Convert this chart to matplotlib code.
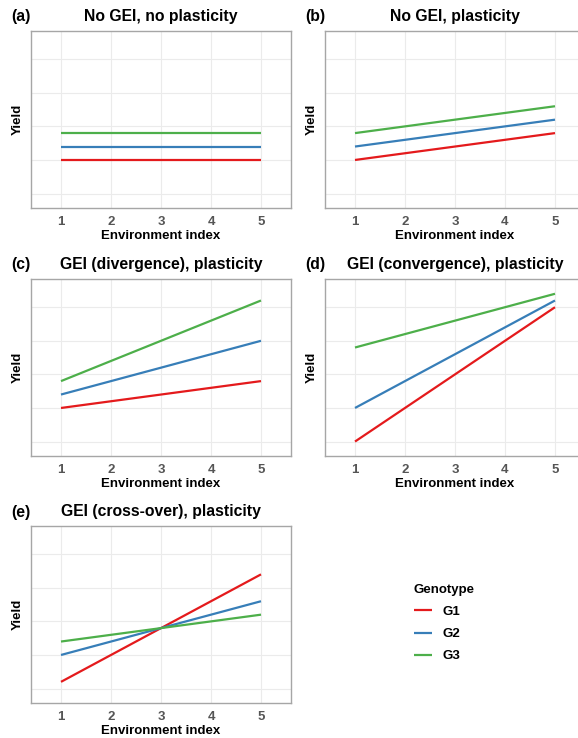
import matplotlib.pyplot as plt
import numpy as np

plt.rcParams['font.family'] = ['Liberation Sans', 'DejaVu Sans']

env = [1, 2, 3, 4, 5]
genotypes = ['G1', 'G2', 'G3']
colors = ['#E41A1C', '#377EB8', '#4DAF4A']

# yield at environment 1 and 5 for each genotype (straight lines)
panels = [
    ('(a)', 'No GEI, no plasticity', [[2.0, 2.0], [2.4, 2.4], [2.8, 2.8]]),
    ('(b)', 'No GEI, plasticity', [[2.0, 2.8], [2.4, 3.2], [2.8, 3.6]]),
    ('(c)', 'GEI (divergence), plasticity', [[2.0, 2.8], [2.4, 4.0], [2.8, 5.2]]),
    ('(d)', 'GEI (convergence), plasticity', [[1.0, 5.0], [2.0, 5.2], [3.8, 5.4]]),
    ('(e)', 'GEI (cross-over), plasticity', [[1.2, 4.4], [2.0, 3.6], [2.4, 3.2]]),
]

W, H = 578, 738
fig = plt.figure(figsize=(W / 100, H / 100), dpi=100)

lefts = [31, 325]
tops = [31, 279, 526]
pw, ph = 260, 177

for i, (tag, title, vals) in enumerate(panels):
    col = i % 2
    row = i // 2
    x0 = lefts[col]
    y0 = tops[row]
    ax = fig.add_axes([x0 / W, 1 - (y0 + ph) / H, pw / W, ph / H])
    for g, (v1, v5) in enumerate(vals):
        y = np.interp(env, [1, 5], [v1, v5])
        ax.plot(env, y, color=colors[g], lw=1.6, label=genotypes[g],
                solid_capstyle='butt')
    ax.set_xlim(0.4, 5.6)
    ax.set_ylim(0.57, 5.84)
    ax.set_xticks(env)
    ax.set_yticks([1, 2, 3, 4, 5])
    ax.set_yticklabels([])
    ax.grid(which='major', color='#ebebeb', lw=0.8)
    ax.set_axisbelow(True)
    ax.tick_params(which='both', length=0)
    ax.tick_params(axis='x', labelsize=9.5, labelcolor='#555555', pad=6)
    for lab in ax.get_xticklabels():
        lab.set_fontweight('bold')
    for s in ax.spines.values():
        s.set_color('#a6a6a6')
        s.set_linewidth(1.0)
    ax.set_xlabel('Environment index', fontsize=9.5, fontweight='bold', labelpad=1)
    ax.set_ylabel('Yield', fontsize=9.5, fontweight='bold', labelpad=2)
    ax.set_title(title, fontsize=11.3, fontweight='bold', pad=7)
    fig.text((x0 - 20) / W, 1 - (y0 - 14) / H, tag, fontsize=11.3,
             fontweight='bold', va='center', ha='left')
    if i == 4:
        handles, labels = ax.get_legend_handles_labels()

leg = fig.legend(handles, labels, title='Genotype', loc='upper left',
                 bbox_to_anchor=(402 / W, 1 - 572 / H), frameon=False,
                 fontsize=9.5, title_fontsize=9.5, handlelength=1.4,
                 labelspacing=0.75, alignment='left')
leg.get_title().set_fontweight('bold')
for t in leg.get_texts():
    t.set_fontweight('bold')

fig.savefig('out.png', dpi=100)
